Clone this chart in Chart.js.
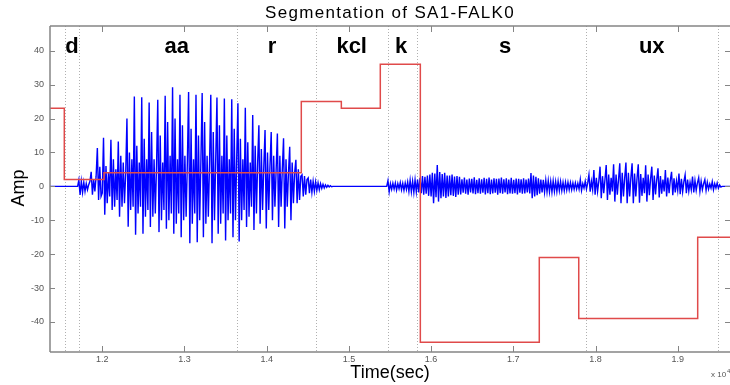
<!DOCTYPE html>
<html>
<head>
<meta charset="utf-8">
<script src="https://cdn.jsdelivr.net/npm/chart.js@4.4.1/dist/chart.umd.min.js"></script>
<style>
  html, body { margin: 0; padding: 0; background: #fff; }
</style>
</head>
<body>
<canvas id="chart" width="730" height="385"></canvas>
<script>
// axis ranges (x in units of 10^4 samples)
const xMin = 1.1364, xMax = 1.9636;
const yMin = -48.85, yMax = 47.28;
const xTicks = [1.2, 1.3, 1.4, 1.5, 1.6, 1.7, 1.8, 1.9];
const yTicks = [-40, -30, -20, -10, 0, 10, 20, 30, 40];

// phone segmentation
const boundaries = [1.155, 1.1713, 1.3639, 1.46, 1.548, 1.5832, 1.788, 1.9487];
const phones = ['d', 'aa', 'r', 'kcl', 'k', 's', 'ux'];
const phoneX = [1.1631, 1.2905, 1.4064, 1.5034, 1.5634, 1.6899, 1.8684];
const phoneY = 41.1;

// red step curve
const stepX = [1.1364, 1.1538, 1.2021, 1.4421, 1.4908, 1.5382, 1.5869, 1.7316, 1.7796, 1.9243, 1.9636];
const stepY = [23, 2, 4, 25, 23, 36, -46, -21, -39, -15, -15];

// waveform (uniform sample spacing)
const sampleStep = 0.0015;
const voicedStart = 1.170;
const waveD = [0, 1.9, -2.5, 1.5, -1.8, 1.2, -1.5, 0.8, -1.0, 0.5, 1.5, 4.3, -2.5, 2.0, -1.5, 3.0, 11.3, -4.0, 5.8, -3.0];
const waveAa = [
  -2, 14.3, -8.4, 6, -5, 4, -3,
  13.7, -7, 8, -6, 5, -4,
  13.2, -9, 9, -6, 7, -5, 4,
  20, -11.9, 10, -7, 8, -6,
  26.5, -14.3, 12, -8, 7, -6,
  26.3, -14, 14, -9, 8, -7,
  24.7, -12, 16, -9, 8, -8, 6,
  25.5, -13.5, 15, -10, 7, -7,
  26.7, -12.5, 19, -10, 9, -8,
  29.2, -14, 20, -11, 8, -8,
  27, -15, 18, -10, 9, -9, 7,
  27.8, -16.8, 17, -11, 8, -8,
  27, -16.5, 15, -10, 8,
  27.5, -15, 19, -11, 9, -9, 7,
  27, -16.8, 16, -10, 8,
  26.2, -14, 18, -11, 9, -8,
  25.9, -16, 15, -10, 8, -8,
  25.7, -15, 17, -10, 8
];
const waveR = [
  24.5, -16.3, 14, -10, 8, -7,
  23.2, -12, 13, -9, 7, -6,
  21, -12.9, 12, -8, 7,
  18, -11, 11, -7, 6,
  16.6, -12.4, 10, -7, 6,
  16, -10, 9, -6, 5,
  15.6, -12, 9, -6, 5,
  14.2, -12.4, 8, -6, 4,
  11.7, -10, 7, -5, 4,
  7.8, -5, 5, -4, 3,
  3.4, -3, 3, -2.5, 2,
  2.5, -2, 2, -1.8, 1.5, -1.5, 1.3, -1.2, 1, -1, 0.8, -0.6, 0.6, -0.5, 0.4, -0.3, 0.3, -0.2, 0.2, -0.1, 0
];
const fricStart = 1.546;
const waveK = [0, 1.7, -1.6, 0.8, -0.9, 0.9, -0.8, 1, -1.1, 0.8, -0.7, 1.1, -1, 0.9, -1.2, 1, -0.9, 1.3, -1.5, 1.8, -1.6, 1.5, -1.8, 1.9, -1.6];
const waveS = [
  2, -1.8, 2.5, -2, 3, -2.5, 2.8, -2.2, 3.2,
  -2.8, 3.5, -3, 4, -5, 3.8, -3.2, 6.3, -4.5, 4.2, -3.5, 3.6, -3, 4, -3.4, 3.2,
  -3, 3.2, -2.6, 3.5, -2.8, 2.9, -3.1, 3, -2.5, 2.8,
  -2.4, 2.1, -1.9, 2.6, -2.2, 2, -2.5, 2.3, -1.8, 2.2,
  -2.1, 2.7, -2.3, 1.9, -2, 2.4, -2.2, 2.1, -1.9, 2.5,
  -2.4, 2.2, -2, 2.6, -2.3, 2, -2.1, 2.4, -1.9, 2.2,
  -2.5, 2.3, -2, 2.6, -2.2, 2.1, -1.8, 2.4, -2.3, 2,
  -2.1, 2.5, -2.2, 1.9, -2, 2.3, -2.4, 2.2, -1.9, 2.1,
  -2.2, 2.4, -2.1, 2, -1.8, 2.3, -2.1,
  3.9, -3.5, 3.2, -3, 2.8, -2.6, 2.4, -2.2, 2,
  -1.8, 1.9, -1.7, 1.8, -1.6, 1.7, -1.6, 1.5, -1.7, 1.6,
  -1.5, 1.4, -1.5, 1.5, -1.3, 1.4, -1.3, 1.2, -1.3, 1.2,
  -1.1, 1.2, -1, 1.1, -1, 1, -0.9, 1, -0.8, 0.9, -0.8,
  2, -1.2, 0.8, -0.5
];
const waveUx = [
  1.5, -0.8, 1.0,
  3.4, -1.6, 1.5, -1,
  4.8, -2.5, 2.5, -1.5, 1.5,
  5.8, -3.5, 3, -2, 2,
  6.3, -4, 3.5, -2.5, 2.5, -1.5,
  6.5, -4.5, 3.5, -2.5, 2,
  6.8, -5, 4, -3, 2.5,
  7, -5, 4, -3, 2.5,
  6.8, -5, 3.8, -3, 2.4,
  6.5, -4.8, 3.6, -2.8, 2.5, -2,
  6.2, -4.5, 3.5, -2.6, 2.2,
  5.8, -4, 3.2, -2.4, 2,
  5.3, -3.3, 3, -2.2, 2, -1.5,
  4.8, -3, 2.6, -2, 1.8,
  4.3, -2.6, 2.4, -1.8, 1.6, -1.2,
  3.8, -2.3, 2.2, -1.6, 1.4,
  3.4, -2, 2, -1.4, 1.2, -1,
  2.9, -1.8, 1.7, -1.2, 1,
  2.5, -1.5, 1.5, -1, 0.8,
  2, -1.2, 1.2, -0.8, 0.7, -0.5,
  1.4, -1, 0.8, -0.5,
  1.0, -0.6, 0.4, -0.2, 0
];

function samples(start, parts) {
  return [].concat(...parts).map((v, i) => ({ x: start + i * sampleStep, y: v }));
}
const wavePoints = [
  { x: xMin, y: 0 },
  ...samples(voicedStart, [waveD, waveAa, waveR]),
  ...samples(fricStart, [waveK, waveS, waveUx]),
  { x: xMax, y: 0 }
];
const stepPoints = stepX.map((x, i) => ({ x, y: stepY[i] }));

const FONT = '"Liberation Sans", Arial, sans-serif';

const matlabAxes = {
  id: 'matlabAxes',
  beforeDatasetsDraw(chart) {
    const { ctx, chartArea: a, scales: { x } } = chart;
    ctx.save();
    ctx.strokeStyle = '#b0b0b0';
    ctx.lineWidth = 1;
    ctx.setLineDash([1, 2]);
    boundaries.forEach(b => {
      const px = Math.round(x.getPixelForValue(b)) + 0.5;
      ctx.beginPath(); ctx.moveTo(px, a.top); ctx.lineTo(px, a.bottom); ctx.stroke();
    });
    ctx.restore();
  },
  afterDatasetsDraw(chart) {
    const { ctx, chartArea: a, scales: { x, y } } = chart;
    ctx.save();
    // box + ticks
    ctx.strokeStyle = '#858585';
    ctx.lineWidth = 1.5;
    ctx.beginPath();
    ctx.moveTo(a.left, a.top); ctx.lineTo(a.right + 1, a.top);
    ctx.moveTo(a.left, a.top); ctx.lineTo(a.left, a.bottom);
    ctx.moveTo(a.left, a.bottom); ctx.lineTo(a.right + 1, a.bottom);
    ctx.stroke();
    ctx.lineWidth = 1;
    ctx.beginPath();
    xTicks.forEach(t => {
      const px = Math.round(x.getPixelForValue(t)) + 0.5;
      ctx.moveTo(px, a.bottom); ctx.lineTo(px, a.bottom - 6);
      ctx.moveTo(px, a.top); ctx.lineTo(px, a.top + 6);
    });
    yTicks.forEach(t => {
      const py = Math.round(y.getPixelForValue(t)) + 0.5;
      ctx.moveTo(a.left, py); ctx.lineTo(a.left + 5, py);
      ctx.moveTo(a.right, py); ctx.lineTo(a.right - 5, py);
    });
    ctx.stroke();

    // tick labels
    ctx.fillStyle = '#555';
    ctx.font = '9px ' + FONT;
    ctx.textAlign = 'center'; ctx.textBaseline = 'middle';
    xTicks.forEach(t => ctx.fillText(t.toFixed(1), x.getPixelForValue(t), a.bottom + 8));
    ctx.textAlign = 'right';
    yTicks.forEach(t => ctx.fillText(String(t), a.left - 6, y.getPixelForValue(t)));
    ctx.textAlign = 'left';
    ctx.font = '8px ' + FONT;
    ctx.fillText('x 10', 711, 375);
    ctx.font = '6px ' + FONT;
    ctx.fillText('4', 727, 371);

    // phone labels
    ctx.fillStyle = '#000';
    ctx.font = 'bold 22px ' + FONT;
    ctx.textAlign = 'center';
    phones.forEach((p, i) => ctx.fillText(p, x.getPixelForValue(phoneX[i]), y.getPixelForValue(phoneY)));

    // titles
    ctx.font = '17px ' + FONT;
    ctx.letterSpacing = '1.3px';
    ctx.fillText('Segmentation of SA1-FALK0', (a.left + a.right) / 2, 13);
    ctx.letterSpacing = '0px';
    ctx.font = '18px ' + FONT;
    ctx.fillText('Time(sec)', (a.left + a.right) / 2, 373);
    ctx.translate(19, 188);
    ctx.rotate(-Math.PI / 2);
    ctx.fillText('Amp', 0, 0);
    ctx.restore();
  }
};

new Chart(document.getElementById('chart'), {
  type: 'line',
  data: {
    datasets: [
      { data: stepPoints, borderColor: '#e04a4a', borderWidth: 1.5, stepped: true, pointRadius: 0, order: 0 },
      { data: wavePoints, borderColor: '#0000ff', borderWidth: 1.4, pointRadius: 0, tension: 0, order: 1 }
    ]
  },
  options: {
    responsive: false,
    devicePixelRatio: 1,
    animation: false,
    layout: { padding: { left: 50, top: 26, right: 0, bottom: 33 } },
    plugins: { legend: { display: false }, tooltip: { enabled: false } },
    scales: {
      x: { type: 'linear', min: xMin, max: xMax, display: false },
      y: { type: 'linear', min: yMin, max: yMax, display: false }
    }
  },
  plugins: [matlabAxes]
});
</script>
</body>
</html>
